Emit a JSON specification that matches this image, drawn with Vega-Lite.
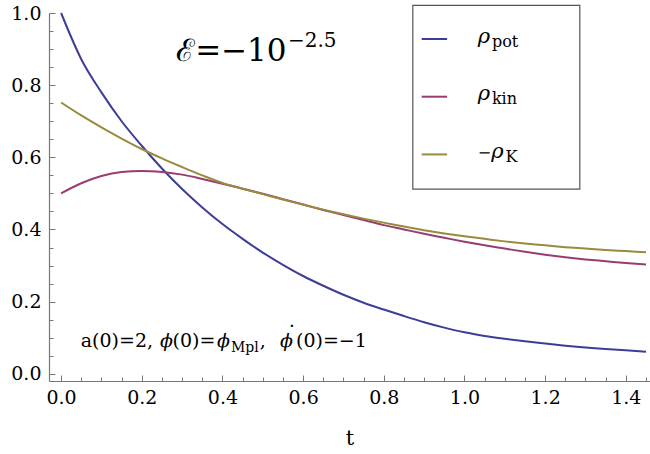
{
  "$schema": "https://vega.github.io/schema/vega-lite/v6.json",
  "width": 601,
  "height": 368,
  "autosize": {"type": "none"},
  "padding": {"left": 49, "top": 13, "right": 0, "bottom": 73},
  "background": "white",
  "data": {"values": [{}]},
  "config": {
    "view": {"stroke": null},
    "axis": {
      "grid": false,
      "domainColor": "#777777",
      "tickColor": "#777777",
      "domainWidth": 1.2,
      "tickWidth": 1,
      "labelFont": "DejaVu Serif",
      "labelFontSize": 19,
      "labelColor": "#000000",
      "titleFont": "DejaVu Serif",
      "titleFontSize": 21,
      "titleFontWeight": "normal",
      "titleColor": "#000000",
      "labelFlush": false,
      "labelOverlap": false
    },
    "text": {"font": "DejaVu Serif", "color": "#000000"}
  },
  "datasets": {
    "curves": [
      {"t": 0.0, "v": 1.0, "s": "pot"},
      {"t": 0.05, "v": 0.872, "s": "pot"},
      {"t": 0.1, "v": 0.78, "s": "pot"},
      {"t": 0.15, "v": 0.7, "s": "pot"},
      {"t": 0.2, "v": 0.632, "s": "pot"},
      {"t": 0.25, "v": 0.569, "s": "pot"},
      {"t": 0.3, "v": 0.512, "s": "pot"},
      {"t": 0.35, "v": 0.461, "s": "pot"},
      {"t": 0.4, "v": 0.415, "s": "pot"},
      {"t": 0.45, "v": 0.374, "s": "pot"},
      {"t": 0.5, "v": 0.336, "s": "pot"},
      {"t": 0.55, "v": 0.302, "s": "pot"},
      {"t": 0.6, "v": 0.271, "s": "pot"},
      {"t": 0.65, "v": 0.244, "s": "pot"},
      {"t": 0.7, "v": 0.219, "s": "pot"},
      {"t": 0.75, "v": 0.197, "s": "pot"},
      {"t": 0.8, "v": 0.178, "s": "pot"},
      {"t": 0.85, "v": 0.16, "s": "pot"},
      {"t": 0.9, "v": 0.143, "s": "pot"},
      {"t": 0.95, "v": 0.128, "s": "pot"},
      {"t": 1.0, "v": 0.115, "s": "pot"},
      {"t": 1.05, "v": 0.105, "s": "pot"},
      {"t": 1.1, "v": 0.097, "s": "pot"},
      {"t": 1.15, "v": 0.09, "s": "pot"},
      {"t": 1.2, "v": 0.084, "s": "pot"},
      {"t": 1.25, "v": 0.078, "s": "pot"},
      {"t": 1.3, "v": 0.073, "s": "pot"},
      {"t": 1.35, "v": 0.069, "s": "pot"},
      {"t": 1.4, "v": 0.065, "s": "pot"},
      {"t": 1.45, "v": 0.061, "s": "pot"},
      {"t": 0.0, "v": 0.5, "s": "kin"},
      {"t": 0.05, "v": 0.528, "s": "kin"},
      {"t": 0.1, "v": 0.548, "s": "kin"},
      {"t": 0.15, "v": 0.559, "s": "kin"},
      {"t": 0.2, "v": 0.562, "s": "kin"},
      {"t": 0.25, "v": 0.559, "s": "kin"},
      {"t": 0.3, "v": 0.552, "s": "kin"},
      {"t": 0.35, "v": 0.54, "s": "kin"},
      {"t": 0.4, "v": 0.527, "s": "kin"},
      {"t": 0.45, "v": 0.513, "s": "kin"},
      {"t": 0.5, "v": 0.499, "s": "kin"},
      {"t": 0.55, "v": 0.484, "s": "kin"},
      {"t": 0.6, "v": 0.469, "s": "kin"},
      {"t": 0.65, "v": 0.454, "s": "kin"},
      {"t": 0.7, "v": 0.44, "s": "kin"},
      {"t": 0.75, "v": 0.426, "s": "kin"},
      {"t": 0.8, "v": 0.412, "s": "kin"},
      {"t": 0.85, "v": 0.4, "s": "kin"},
      {"t": 0.9, "v": 0.388, "s": "kin"},
      {"t": 0.95, "v": 0.377, "s": "kin"},
      {"t": 1.0, "v": 0.366, "s": "kin"},
      {"t": 1.05, "v": 0.356, "s": "kin"},
      {"t": 1.1, "v": 0.347, "s": "kin"},
      {"t": 1.15, "v": 0.338, "s": "kin"},
      {"t": 1.2, "v": 0.33, "s": "kin"},
      {"t": 1.25, "v": 0.323, "s": "kin"},
      {"t": 1.3, "v": 0.317, "s": "kin"},
      {"t": 1.35, "v": 0.312, "s": "kin"},
      {"t": 1.4, "v": 0.307, "s": "kin"},
      {"t": 1.45, "v": 0.303, "s": "kin"},
      {"t": 0.0, "v": 0.752, "s": "K"},
      {"t": 0.05, "v": 0.716, "s": "K"},
      {"t": 0.1, "v": 0.683, "s": "K"},
      {"t": 0.15, "v": 0.652, "s": "K"},
      {"t": 0.2, "v": 0.623, "s": "K"},
      {"t": 0.25, "v": 0.597, "s": "K"},
      {"t": 0.3, "v": 0.573, "s": "K"},
      {"t": 0.35, "v": 0.55, "s": "K"},
      {"t": 0.4, "v": 0.529, "s": "K"},
      {"t": 0.45, "v": 0.513, "s": "K"},
      {"t": 0.5, "v": 0.498, "s": "K"},
      {"t": 0.55, "v": 0.483, "s": "K"},
      {"t": 0.6, "v": 0.469, "s": "K"},
      {"t": 0.65, "v": 0.455, "s": "K"},
      {"t": 0.7, "v": 0.442, "s": "K"},
      {"t": 0.75, "v": 0.43, "s": "K"},
      {"t": 0.8, "v": 0.419, "s": "K"},
      {"t": 0.85, "v": 0.408, "s": "K"},
      {"t": 0.9, "v": 0.398, "s": "K"},
      {"t": 0.95, "v": 0.389, "s": "K"},
      {"t": 1.0, "v": 0.381, "s": "K"},
      {"t": 1.05, "v": 0.374, "s": "K"},
      {"t": 1.1, "v": 0.367, "s": "K"},
      {"t": 1.15, "v": 0.361, "s": "K"},
      {"t": 1.2, "v": 0.356, "s": "K"},
      {"t": 1.25, "v": 0.351, "s": "K"},
      {"t": 1.3, "v": 0.347, "s": "K"},
      {"t": 1.35, "v": 0.343, "s": "K"},
      {"t": 1.4, "v": 0.34, "s": "K"},
      {"t": 1.45, "v": 0.337, "s": "K"}
    ]
  },
  "layer": [
    {
      "data": {"name": "curves"},
      "mark": {"type": "line", "strokeWidth": 2, "interpolate": "monotone"},
      "encoding": {
        "x": {
          "field": "t", "type": "quantitative",
          "scale": {"domain": [-0.03, 1.46], "nice": false, "zero": false},
          "axis": {
            "values": [0, 0.2, 0.4, 0.6, 0.8, 1.0, 1.2, 1.4],
            "format": ".1f", "tickSize": -6, "labelPadding": 13,
            "title": "t", "titlePadding": 20, "orient": "bottom"
          }
        },
        "y": {
          "field": "v", "type": "quantitative",
          "scale": {"domain": [-0.02, 1.0], "nice": false, "zero": false},
          "axis": {
            "values": [0, 0.2, 0.4, 0.6, 0.8, 1.0],
            "format": ".1f", "tickSize": -6, "labelPadding": 14,
            "title": null, "orient": "left"
          }
        },
        "color": {
          "field": "s", "type": "nominal",
          "scale": {"domain": ["pot", "kin", "K"], "range": ["#3d3d99", "#993d71", "#998b3d"]},
          "legend": null
        }
      }
    },
    {
      "mark": {"type": "rect", "fill": "white", "stroke": "#555555", "strokeWidth": 1.2},
      "encoding": {
        "x": {"datum": 0.872, "type": "quantitative",
          "scale": {"domain": [-0.03, 1.46], "nice": false, "zero": false},
          "axis": {
            "values": [0.05, 0.1, 0.15, 0.25, 0.3, 0.35, 0.45, 0.5, 0.55, 0.65, 0.7, 0.75, 0.85, 0.9, 0.95, 1.05, 1.1, 1.15, 1.25, 1.3, 1.35, 1.45],
            "tickSize": -4, "labels": false, "domain": false, "title": null, "orient": "bottom"
          }
        },
        "x2": {"datum": 1.286},
        "y": {"datum": 1.021, "type": "quantitative",
          "scale": {"domain": [-0.02, 1.0], "nice": false, "zero": false},
          "axis": {
            "values": [0.05, 0.1, 0.15, 0.25, 0.3, 0.35, 0.45, 0.5, 0.55, 0.65, 0.7, 0.75, 0.85, 0.9, 0.95],
            "tickSize": -4, "labels": false, "domain": false, "title": null, "orient": "left"
          }
        },
        "y2": {"datum": 0.512}
      }
    },
    {
      "mark": {"type": "rule", "stroke": "#3d3d99", "strokeWidth": 2},
      "encoding": {"x": {"datum": 0.894, "type": "quantitative", "axis": null}, "x2": {"datum": 0.957}, "y": {"datum": 0.928, "type": "quantitative", "axis": null}}
    },
    {
      "mark": {"type": "rule", "stroke": "#993d71", "strokeWidth": 2},
      "encoding": {"x": {"datum": 0.894, "type": "quantitative", "axis": null}, "x2": {"datum": 0.957}, "y": {"datum": 0.768, "type": "quantitative", "axis": null}}
    },
    {
      "mark": {"type": "rule", "stroke": "#998b3d", "strokeWidth": 2},
      "encoding": {"x": {"datum": 0.894, "type": "quantitative", "axis": null}, "x2": {"datum": 0.957}, "y": {"datum": 0.608, "type": "quantitative", "axis": null}}
    },
    {
      "mark": {"type": "text", "text": "ρ", "fontStyle": "italic", "fontSize": 21, "align": "left", "baseline": "alphabetic"},
      "encoding": {"x": {"datum": 1.033, "type": "quantitative", "axis": null}, "y": {"datum": 0.9175, "type": "quantitative", "axis": null}}
    },
    {
      "mark": {"type": "text", "text": "pot", "fontSize": 16, "align": "left", "baseline": "alphabetic", "dy": 4},
      "encoding": {"x": {"datum": 1.068, "type": "quantitative", "axis": null}, "y": {"datum": 0.9175, "type": "quantitative", "axis": null}}
    },
    {
      "mark": {"type": "text", "text": "ρ", "fontStyle": "italic", "fontSize": 21, "align": "left", "baseline": "alphabetic"},
      "encoding": {"x": {"datum": 1.033, "type": "quantitative", "axis": null}, "y": {"datum": 0.758, "type": "quantitative", "axis": null}}
    },
    {
      "mark": {"type": "text", "text": "kin", "fontSize": 16, "align": "left", "baseline": "alphabetic", "dy": 4},
      "encoding": {"x": {"datum": 1.068, "type": "quantitative", "axis": null}, "y": {"datum": 0.758, "type": "quantitative", "axis": null}}
    },
    {
      "mark": {"type": "text", "text": "−", "fontSize": 16, "align": "left", "baseline": "alphabetic"},
      "encoding": {"x": {"datum": 1.033, "type": "quantitative", "axis": null}, "y": {"datum": 0.598, "type": "quantitative", "axis": null}}
    },
    {
      "mark": {"type": "text", "text": "ρ", "fontStyle": "italic", "fontSize": 21, "align": "left", "baseline": "alphabetic"},
      "encoding": {"x": {"datum": 1.0665, "type": "quantitative", "axis": null}, "y": {"datum": 0.598, "type": "quantitative", "axis": null}}
    },
    {
      "mark": {"type": "text", "text": "K", "fontSize": 16, "align": "left", "baseline": "alphabetic", "dy": 4},
      "encoding": {"x": {"datum": 1.102, "type": "quantitative", "axis": null}, "y": {"datum": 0.598, "type": "quantitative", "axis": null}}
    },
    {
      "mark": {"type": "text", "text": "ℰ=−10", "fontSize": 31, "align": "right", "baseline": "alphabetic"},
      "encoding": {"x": {"datum": 0.559, "type": "quantitative", "axis": null}, "y": {"datum": 0.8656, "type": "quantitative", "axis": null}}
    },
    {
      "mark": {"type": "text", "text": "−2.5", "fontSize": 20, "align": "left", "baseline": "alphabetic"},
      "encoding": {"x": {"datum": 0.5625, "type": "quantitative", "axis": null}, "y": {"datum": 0.9056, "type": "quantitative", "axis": null}}
    },
    {
      "mark": {"type": "text", "text": "a(0)=2,", "fontSize": 19, "align": "left", "baseline": "alphabetic"},
      "encoding": {"x": {"datum": 0.0488, "type": "quantitative", "axis": null}, "y": {"datum": 0.073, "type": "quantitative", "axis": null}}
    },
    {
      "mark": {"type": "text", "text": "ϕ", "fontSize": 19, "fontStyle": "italic", "align": "left", "baseline": "alphabetic"},
      "encoding": {"x": {"datum": 0.245, "type": "quantitative", "axis": null}, "y": {"datum": 0.073, "type": "quantitative", "axis": null}}
    },
    {
      "mark": {"type": "text", "text": "(0)=", "fontSize": 19, "align": "left", "baseline": "alphabetic"},
      "encoding": {"x": {"datum": 0.2762, "type": "quantitative", "axis": null}, "y": {"datum": 0.073, "type": "quantitative", "axis": null}}
    },
    {
      "mark": {"type": "text", "text": "ϕ", "fontSize": 19, "fontStyle": "italic", "align": "left", "baseline": "alphabetic"},
      "encoding": {"x": {"datum": 0.3865, "type": "quantitative", "axis": null}, "y": {"datum": 0.073, "type": "quantitative", "axis": null}}
    },
    {
      "mark": {"type": "text", "text": "Mpl", "fontSize": 14, "align": "left", "baseline": "alphabetic", "dy": 5},
      "encoding": {"x": {"datum": 0.421, "type": "quantitative", "axis": null}, "y": {"datum": 0.073, "type": "quantitative", "axis": null}}
    },
    {
      "mark": {"type": "text", "text": ",", "fontSize": 19, "align": "left", "baseline": "alphabetic"},
      "encoding": {"x": {"datum": 0.4925, "type": "quantitative", "axis": null}, "y": {"datum": 0.073, "type": "quantitative", "axis": null}}
    },
    {
      "mark": {"type": "text", "text": "ϕ", "fontSize": 19, "fontStyle": "italic", "align": "left", "baseline": "alphabetic"},
      "encoding": {"x": {"datum": 0.5426, "type": "quantitative", "axis": null}, "y": {"datum": 0.073, "type": "quantitative", "axis": null}}
    },
    {
      "mark": {"type": "text", "text": "(0)=−1", "fontSize": 19, "align": "left", "baseline": "alphabetic"},
      "encoding": {"x": {"datum": 0.5823, "type": "quantitative", "axis": null}, "y": {"datum": 0.073, "type": "quantitative", "axis": null}}
    },
    {
      "mark": {"type": "text", "text": ".", "fontSize": 18, "align": "center", "baseline": "alphabetic"},
      "encoding": {"x": {"datum": 0.572, "type": "quantitative", "axis": null}, "y": {"datum": 0.131, "type": "quantitative", "axis": null}}
    }
  ],
  "resolve": {"axis": {"x": "independent", "y": "independent"}}
}
